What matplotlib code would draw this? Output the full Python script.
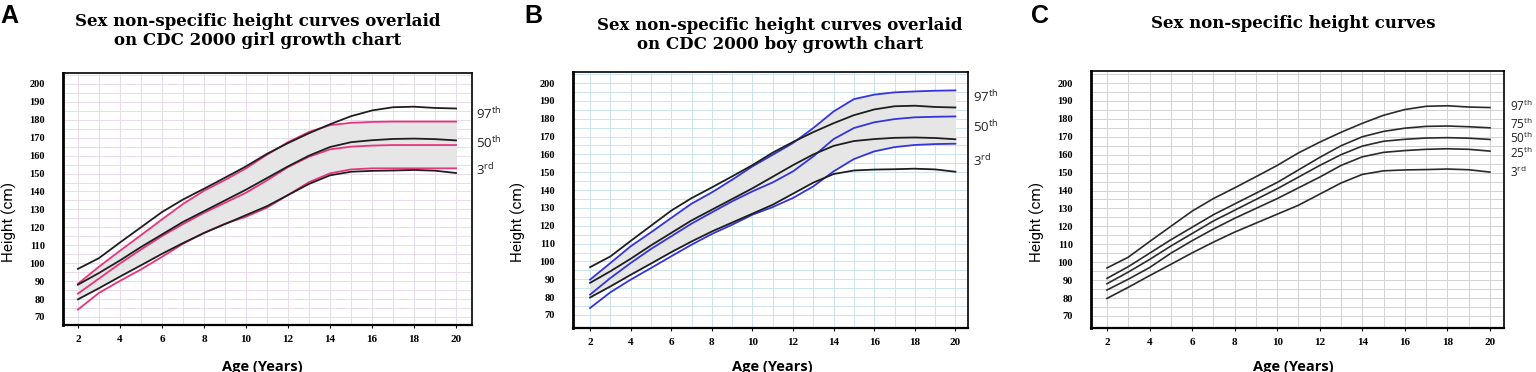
import numpy as np
import matplotlib
matplotlib.use("Agg")
import matplotlib.pyplot as plt

plt.rcParams["mathtext.fontset"] = "custom"
plt.rcParams["mathtext.rm"] = "Open Sans"
plt.rcParams["mathtext.it"] = "Open Sans"

# ages in years
ages = [2, 3, 4, 5, 6, 7, 8, 9, 10, 11, 12, 13, 14, 15, 16, 17, 18, 19, 20]

# sex non-specific height percentiles (cm)
sexns_p97 = [96.8, 102.8, 111.5, 120.0, 128.5, 135.5, 141.5, 147.7, 154.0, 161.0,
             167.0, 172.5, 177.5, 182.0, 185.2, 187.0, 187.3, 186.6, 186.3]
sexns_p75 = [91.0, 97.5, 105.0, 112.5, 119.5, 126.5, 132.5, 138.5, 144.5, 151.5,
             158.5, 165.0, 170.0, 173.0, 174.8, 175.8, 176.0, 175.6, 175.0]
sexns_p50 = [88.0, 94.5, 101.5, 109.0, 116.0, 123.0, 129.0, 135.0, 141.0, 147.5,
             154.0, 160.0, 164.8, 167.5, 168.6, 169.3, 169.5, 169.2, 168.5]
sexns_p25 = [84.5, 90.5, 97.0, 105.0, 112.0, 118.5, 124.5, 130.0, 135.5, 141.5,
             147.5, 154.0, 158.8, 161.3, 162.3, 163.0, 163.3, 163.0, 162.0]
sexns_p3 = [79.8, 86.0, 92.5, 98.8, 105.2, 111.2, 116.8, 121.8, 126.8, 131.8,
            138.0, 144.2, 149.0, 151.0, 151.5, 151.7, 152.0, 151.6, 150.3]

# CDC 2000 girls
girl_p97 = [88.5, 98.0, 106.9, 115.6, 124.4, 133.0, 140.4, 146.4, 152.9, 160.5,
            167.5, 173.2, 177.0, 178.3, 178.8, 179.0, 179.0, 179.0, 179.0]
girl_p50 = [83.0, 91.4, 99.8, 107.6, 115.1, 121.8, 128.1, 133.7, 139.3, 146.2,
            153.6, 159.4, 163.5, 165.0, 165.6, 165.9, 165.9, 165.9, 165.9]
girl_p3 = [74.1, 83.4, 90.1, 96.5, 103.5, 110.8, 116.9, 122.0, 125.9, 131.0,
           138.0, 145.2, 150.1, 152.3, 152.9, 152.9, 152.9, 152.9, 152.9]

# CDC 2000 boys
boy_p97 = [89.8, 99.1, 108.5, 116.3, 124.4, 132.4, 138.7, 145.8, 153.3, 159.8,
           166.4, 174.8, 184.1, 191.0, 193.5, 194.8, 195.3, 195.7, 195.9]
boy_p50 = [81.4, 90.7, 99.1, 107.0, 114.1, 121.2, 127.5, 133.7, 139.3, 144.3,
           150.5, 158.9, 168.6, 174.8, 178.0, 179.8, 180.8, 181.1, 181.3]
boy_p3 = [73.9, 82.7, 89.8, 96.3, 102.9, 109.4, 115.4, 120.6, 126.2, 130.5,
          135.6, 142.1, 150.5, 157.4, 161.7, 164.1, 165.3, 165.8, 166.0]

x_ticks = [2, 4, 6, 8, 10, 12, 14, 16, 18, 20]
y_ticks = [70, 80, 90, 100, 110, 120, 130, 140, 150, 160, 170, 180, 190, 200]

W, H = 1536, 372
fig = plt.figure(figsize=(W / 100, H / 100), dpi=100)


def px_axes(left, right, top, bottom):
    return fig.add_axes([left / W, 1 - bottom / H, (right - left) / W, (bottom - top) / H])


def style_axes(ax, xlim, ylim, grid_color):
    ax.set_xlim(*xlim)
    ax.set_ylim(*ylim)
    for yv in np.arange(70, 206, 5):
        ax.axhline(yv, color=grid_color, lw=0.7, zorder=0)
    for xv in range(2, 21):
        ax.axvline(xv, color=grid_color, lw=0.7, zorder=0)
    ax.set_xticks(x_ticks)
    ax.set_xticklabels([str(t) for t in x_ticks], fontfamily="Liberation Serif",
                       fontweight="bold", fontsize=8)
    ax.set_yticks(y_ticks)
    ax.set_yticklabels([str(t) for t in y_ticks], fontfamily="Liberation Serif",
                       fontweight="bold", fontsize=7.5)
    ax.tick_params(axis="y", length=0, pad=13)
    ax.tick_params(axis="x", length=2, width=0.8, pad=5)
    for s in ax.spines.values():
        s.set_color("black")
        s.set_linewidth(1.2)
    ax.spines["left"].set_linewidth(2)
    ax.spines["bottom"].set_linewidth(1.6)


def pct_label(ax, y, text, x_px_offset, size=9.5):
    ax.annotate(text, xy=(1, y), xycoords=("axes fraction", "data"),
                xytext=(x_px_offset, 0), textcoords="offset pixels",
                ha="left", va="center", fontsize=size, fontfamily="Open Sans",
                color="#222222")


def panel_text(x_center, ylabel_x, xlabel_x, letter, letter_x, title, title_y):
    fig.text(letter_x / W, 1 - 16 / H, letter, fontsize=18, fontweight="bold",
             fontfamily="Liberation Sans", ha="left", va="center")
    fig.text(x_center / W, 1 - title_y / H, title, fontsize=12, fontweight="bold",
             fontfamily="DejaVu Serif", ha="center", va="center", linespacing=1.15)
    fig.text(ylabel_x / W, 1 - 222 / H, "Height (cm)", rotation=90, fontsize=11,
             fontfamily=["Liberation Sans Narrow", "Roboto"], ha="center", va="center")
    fig.text(xlabel_x / W, 1 - 367 / H, "Age (Years)", fontsize=10.5, fontweight="bold",
             fontfamily="Open Sans", ha="center", va="center")


black = "#1e1e1e"
fill_c = "#e6e6e6"

# ---- Panel A: girls ----
axA = px_axes(63, 472, 73, 325)
style_axes(axA, (1.29, 20.76), (65.5, 206.1), "#e8dbe8")
axA.fill_between(ages, girl_p97, np.maximum(sexns_p3, girl_p3), color=fill_c, lw=0, zorder=1)
for series in (girl_p97, girl_p50, girl_p3):
    axA.plot(ages, series, color="#e8347e", lw=1.3, zorder=2)
for series in (sexns_p97, sexns_p50, sexns_p3):
    axA.plot(ages, series, color=black, lw=1.3, zorder=3)
pct_label(axA, 183.3, "97$^{\\mathrm{th}}$", 4)
pct_label(axA, 167.0, "50$^{\\mathrm{th}}$", 4)
pct_label(axA, 152.0, "3$^{\\mathrm{rd}}$", 4)
panel_text(258, 9, 262, "A", 0,
           "Sex non-specific height curves overlaid\non CDC 2000 girl growth chart", 31)

# ---- Panel B: boys ----
axB = px_axes(573, 968, 72, 328)
style_axes(axB, (1.16, 20.62), (62.7, 206.2), "#cde4ee")
axB.fill_between(ages, boy_p97, np.maximum(sexns_p3, boy_p3), color=fill_c, lw=0, zorder=1)
for series in (boy_p97, boy_p50, boy_p3):
    axB.plot(ages, series, color="#3434de", lw=1.3, zorder=2)
for series in (sexns_p97, sexns_p50, sexns_p3):
    axB.plot(ages, series, color=black, lw=1.3, zorder=3)
pct_label(axB, 192.0, "97$^{\\mathrm{th}}$", 5)
pct_label(axB, 175.4, "50$^{\\mathrm{th}}$", 5)
pct_label(axB, 156.3, "3$^{\\mathrm{rd}}$", 5)
panel_text(780, 518, 772, "B", 524,
           "Sex non-specific height curves overlaid\non CDC 2000 boy growth chart", 35)

# ---- Panel C: sex non-specific only ----
axC = px_axes(1091, 1504, 71, 328)
style_axes(axC, (1.25, 20.66), (63.3, 206.7), "#d2d2d2")
for series in (sexns_p97, sexns_p75, sexns_p50, sexns_p25, sexns_p3):
    axC.plot(ages, series, color="#2a2a2a", lw=1.2, zorder=3)
pct_label(axC, 187.0, "97$^{\\mathrm{th}}$", 6, 8.5)
pct_label(axC, 177.0, "75$^{\\mathrm{th}}$", 6, 8.5)
pct_label(axC, 169.3, "50$^{\\mathrm{th}}$", 6, 8.5)
pct_label(axC, 160.8, "25$^{\\mathrm{th}}$", 6, 8.5)
pct_label(axC, 150.3, "3$^{\\mathrm{rd}}$", 6, 8.5)
panel_text(1293, 1037, 1293, "C", 1031, "Sex non-specific height curves", 23)

fig.savefig("out.png", dpi=100)
